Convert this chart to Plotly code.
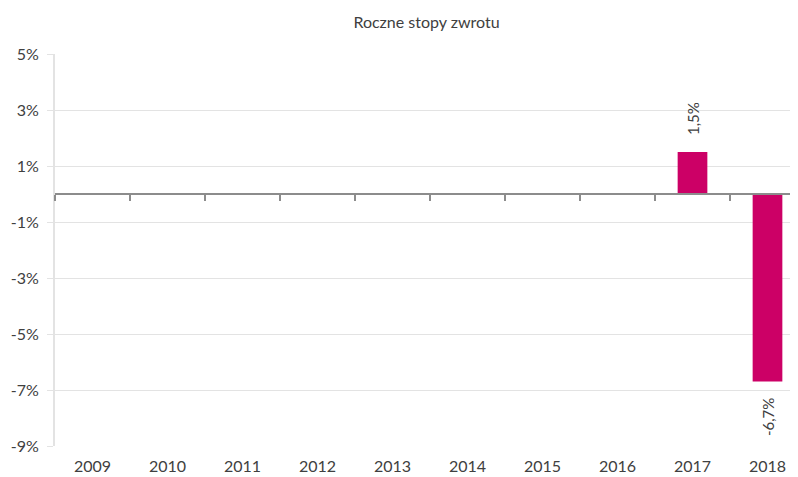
import plotly.graph_objects as go

years = ["2009", "2010", "2011", "2012", "2013", "2014", "2015", "2016", "2017", "2018"]
returns = [None, None, None, None, None, None, None, None, 1.5, -6.7]
y_ticks = [5, 3, 1, -1, -3, -5, -7, -9]
title = "Roczne stopy zwrotu"

bar_color = "#CC0066"
font = "Lato, 'Open Sans', sans-serif"
txt = "#404040"

W, H = 790, 469
L = 47
cat_px = 75.0
x_max = -0.5 + (W - L) / cat_px

xs = list(range(len(years)))
fig = go.Figure()
fig.add_trace(go.Bar(x=xs, y=returns, marker_color=bar_color, width=0.396,
                     marker_line_width=0, hoverinfo="skip"))
# invisible trace to carry the zero-line axis
fig.add_trace(go.Scatter(x=[xs[0]], y=[0], xaxis="x2", mode="markers",
                         marker_opacity=0, showlegend=False, hoverinfo="skip"))

for x, v in zip(xs, returns):
    if v is None:
        continue
    label = f"{v:.1f}%".replace(".", ",")
    fig.add_annotation(x=x, y=v, text=label, textangle=-90, showarrow=False,
                       yanchor="bottom" if v >= 0 else "top",
                       yshift=15 if v >= 0 else -15,
                       font=dict(family=font, size=15, color=txt))

fig.update_layout(
    width=W, height=H,
    margin=dict(l=L, r=0, t=46, b=31),
    paper_bgcolor="white", plot_bgcolor="white",
    showlegend=False,
    title=dict(text=title, x=(L + (W - L) * 0.5) / W, xanchor="center",
               y=1 - 14 / H, yanchor="middle",
               font=dict(family=font, size=16, color=txt)),
    font=dict(family=font, size=16, color=txt),
    xaxis=dict(range=[-0.5, x_max], tickmode="array", tickvals=xs,
               ticktext=years, showgrid=False, zeroline=False, showline=False,
               ticks="", ticklabelstandoff=9,
               tickfont=dict(family=font, size=16, color=txt)),
    xaxis2=dict(range=[-0.5, x_max], overlaying="x", anchor="free",
                position=1 - 5 / 14, side="bottom", showline=True,
                linecolor="#8c8c8c", linewidth=2, ticks="outside", ticklen=6,
                tickwidth=2, tickcolor="#8c8c8c",
                tickvals=[i - 0.5 for i in range(len(years) + 1)],
                showticklabels=False, showgrid=False, zeroline=False),
    yaxis=dict(range=[-9, 5], tickvals=y_ticks,
               ticktext=[f"{t}%" for t in y_ticks],
               showgrid=True, gridcolor="#e3e3e3", gridwidth=1,
               zeroline=False, showline=True, linecolor="#e3e3e3", linewidth=2,
               ticks="outside", ticklen=6, tickcolor="#e3e3e3",
               ticklabelstandoff=5,
               tickfont=dict(family=font, size=16, color=txt)),
)

fig.write_html("out.html")
